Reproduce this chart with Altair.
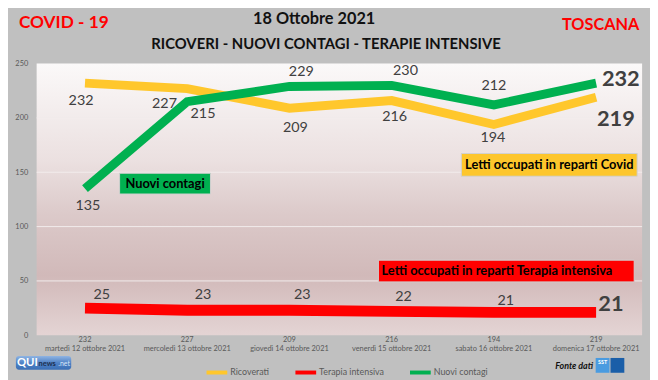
import altair as alt
import pandas as pd

# ---------------- data ----------------
idx = [0, 1, 2, 3, 4, 5]
dates = ["martedì 12 ottobre 2021", "mercoledì 13 ottobre 2021", "giovedì 14 ottobre 2021",
         "venerdì 15 ottobre 2021", "sabato 16 ottobre 2021", "domenica 17 ottobre 2021"]
ricoverati = [232, 227, 209, 216, 194, 219]
terapia = [25, 23, 23, 22, 21, 21]
contagi = [135, 215, 229, 230, 212, 232]
series = ["Ricoverati", "Terapia intensiva", "Nuovi contagi"]
y_ticks = [0, 50, 100, 150, 200, 250]
grid_values = [50, 100, 150, 200]

# ---------------- styling ----------------
colors = ["#ffc72c", "#ff0000", "#00b050"]
widths = {"Ricoverati": 9, "Terapia intensiva": 11, "Nuovi contagi": 9}
FONT = "Lato"
W, H = 613, 275

# label offsets (dx, dy, big) per series / point
label_style = {
    "Ricoverati": [(-4, 18, False), (-23, 16, False), (6, 20, False), (3, 17, False), (-1, 14, False), (20, 22, True)],
    "Terapia intensiva": [(17, -13, False), (16, -15, False), (13, -15, False), (12, -14, False), (12, -12, False), (15, -8, True)],
    "Nuovi contagi": [(3, 18, False), (16, 13, False), (12, -15, False), (14, -14, False), (0, -19, False), (25, -4, True)],
}

values = {"Ricoverati": ricoverati, "Terapia intensiva": terapia, "Nuovi contagi": contagi}
rows = []
for s in series:
    for i, v in zip(idx, values[s]):
        rows.append({"idx": i, "serie": s, "value": v})
df = pd.DataFrame(rows)
cat_df = pd.DataFrame({"idx": idx, "ric": ricoverati, "date": dates})
grid_df = pd.DataFrame({"v": grid_values})
one = pd.DataFrame({"a": [0]})

x_scale = alt.Scale(domain=[-0.473, 5.45], nice=False, zero=False)
y_scale = alt.Scale(domain=[0, 250], nice=False)
color_scale = alt.Scale(domain=series, range=colors)

legend = alt.Legend(orient="none", legendX=170, legendY=300, direction="horizontal", title=None,
                    symbolType="stroke", symbolSize=441, symbolStrokeWidth=4,
                    labelFont=FONT, labelFontSize=9, labelColor="#595959", labelOffset=1,
                    columnPadding=18, padding=0)

layers = []

# plot-area background gradient
grad = alt.Gradient(gradient="linear", x1=0, y1=0, x2=0, y2=1, stops=[
    alt.GradientStop(offset=0, color="#fbf9f9"),
    alt.GradientStop(offset=0.36, color="#ebe0e0"),
    alt.GradientStop(offset=0.55, color="#dccaca"),
    alt.GradientStop(offset=0.78, color="#d1b9b9"),
    alt.GradientStop(offset=1, color="#e4d4d4"),
])
layers.append(alt.Chart(one).mark_rect(fill=grad).encode(
    x=alt.value(0), x2=alt.value(W), y=alt.value(0), y2=alt.value(H)))

# gridlines + y axis
layers.append(alt.Chart(grid_df).mark_rule(color="#f2ecec", strokeWidth=1).encode(
    y=alt.Y("v:Q", scale=y_scale,
            axis=alt.Axis(values=y_ticks, grid=False, domain=False, ticks=False, title=None,
                          labelFont=FONT, labelFontSize=7.5, labelColor="#595959", labelPadding=9)),
    x=alt.value(0), x2=alt.value(W)))

# lines
for s in series:
    layers.append(alt.Chart(df[df.serie == s]).mark_line(
        strokeWidth=widths[s], strokeCap="butt", strokeJoin="miter").encode(
        x=alt.X("idx:Q", scale=x_scale, axis=None),
        y=alt.Y("value:Q", scale=y_scale),
        color=alt.Color("serie:N", scale=color_scale, legend=legend)))

# data labels
for s in series:
    for i, (dx, dy, big) in enumerate(label_style[s]):
        layers.append(alt.Chart(df).transform_filter(
            (alt.datum.serie == s) & (alt.datum.idx == i)).mark_text(
            dx=dx, dy=dy, font=FONT, fontSize=22 if big else 14.5,
            fontWeight="bold" if big else "normal", color="#404040", baseline="middle").encode(
            x=alt.X("idx:Q", scale=x_scale), y=alt.Y("value:Q", scale=y_scale), text="value:Q"))

# category labels (bottom)
layers.append(alt.Chart(cat_df).mark_text(font=FONT, fontSize=7.5, color="#595959", baseline="middle").encode(
    x=alt.X("idx:Q", scale=x_scale), y=alt.value(280), text="ric:Q"))
layers.append(alt.Chart(cat_df).mark_text(font=FONT, fontSize=7.5, color="#595959", baseline="middle").encode(
    x=alt.X("idx:Q", scale=x_scale), y=alt.value(289), text="date:N"))

# annotation boxes
def box(x1, x2, y1, y2, fill, text, tx, ty, size=13):
    r = alt.Chart(one).mark_rect(fill=fill, stroke="#d0d0d0", strokeWidth=1).encode(
        x=alt.value(x1), x2=alt.value(x2), y=alt.value(y1), y2=alt.value(y2))
    t = alt.Chart(one).mark_text(text=text, font=FONT, fontSize=size, fontWeight="bold",
                                 color="#000000", baseline="middle").encode(
        x=alt.value(tx), y=alt.value(ty))
    return [r, t]

layers += box(121 - 37, 213 - 37, 173 - 62, 194 - 62, "#00b050", "Nuovi contagi", 167 - 37, 184 - 62)
layers += box(467 - 37, 645 - 37, 153 - 62, 176 - 62, "#fdc62c", "Letti occupati in reparti Covid", 556 - 37, 165 - 62)
layers += box(383 - 37, 642 - 37, 261 - 62, 283 - 62, "#ff0000", "Letti occupati in reparti Terapia intensiva", 503 - 37, 272 - 62)

# titles
def txt(text, x, y, size, color, weight="bold", align="center", style="normal"):
    return alt.Chart(one).mark_text(text=text, font=FONT, fontSize=size, fontWeight=weight,
                                    color=color, align=align, baseline="middle", fontStyle=style).encode(
        x=alt.value(x), y=alt.value(y))

layers.append(txt("COVID - 19", 64.5 - 37, 21 - 62, 17.5, "#ff0000"))
layers.append(txt("18 Ottobre 2021", 318 - 37, 17 - 62, 16.5, "#111111"))
layers.append(txt("RICOVERI - NUOVI CONTAGI - TERAPIE INTENSIVE", 330 - 37, 42 - 62, 15, "#111111"))
layers.append(txt("TOSCANA", 608 - 37, 23 - 62, 16.5, "#ff0000"))

# logo QUInews
logo_grad = alt.Gradient(gradient="linear", x1=0, y1=0, x2=0, y2=1, stops=[
    alt.GradientStop(offset=0, color="#8fb4e3"),
    alt.GradientStop(offset=0.5, color="#4f82c6"),
    alt.GradientStop(offset=1, color="#3b6fb5"),
])
layers.append(alt.Chart(one).mark_rect(fill=logo_grad, cornerRadius=3).encode(
    x=alt.value(16 - 37), x2=alt.value(72 - 37), y=alt.value(358 - 62), y2=alt.value(372 - 62)))
layers.append(txt("QUI", 17 - 37, 365 - 62, 11.5, "#ffffff", align="left"))
layers.append(txt("news", 39 - 37, 366 - 62, 7.5, "#1e3050", align="left"))
layers.append(txt(".net", 59 - 37, 366 - 62, 7, "#d8e6f8", weight="normal", align="left"))

# Fonte dati + SST logo
layers.append(txt("Fonte dati", 562 - 37, 368 - 62, 9, "#111111", align="left", style="italic"))
layers.append(alt.Chart(one).mark_rect(fill="#4a9be0").encode(
    x=alt.value(603 - 37), x2=alt.value(617 - 37), y=alt.value(360 - 62), y2=alt.value(375 - 62)))
layers.append(alt.Chart(one).mark_rect(fill="#1a5ea8").encode(
    x=alt.value(618 - 37), x2=alt.value(632 - 37), y=alt.value(360 - 62), y2=alt.value(375 - 62)))
layers.append(txt("SST", 610 - 37, 364 - 62, 5.5, "#ffffff"))

chart = alt.layer(*layers).properties(
    width=W, height=H,
    padding={"left": 29, "top": 54, "right": 8, "bottom": 43},
    autosize=alt.AutoSizeParams(type="none"),
    background="#c0c0c0",
).configure_view(stroke=None)

chart.save("out.html", embed_options={"renderer": "svg", "actions": False})
